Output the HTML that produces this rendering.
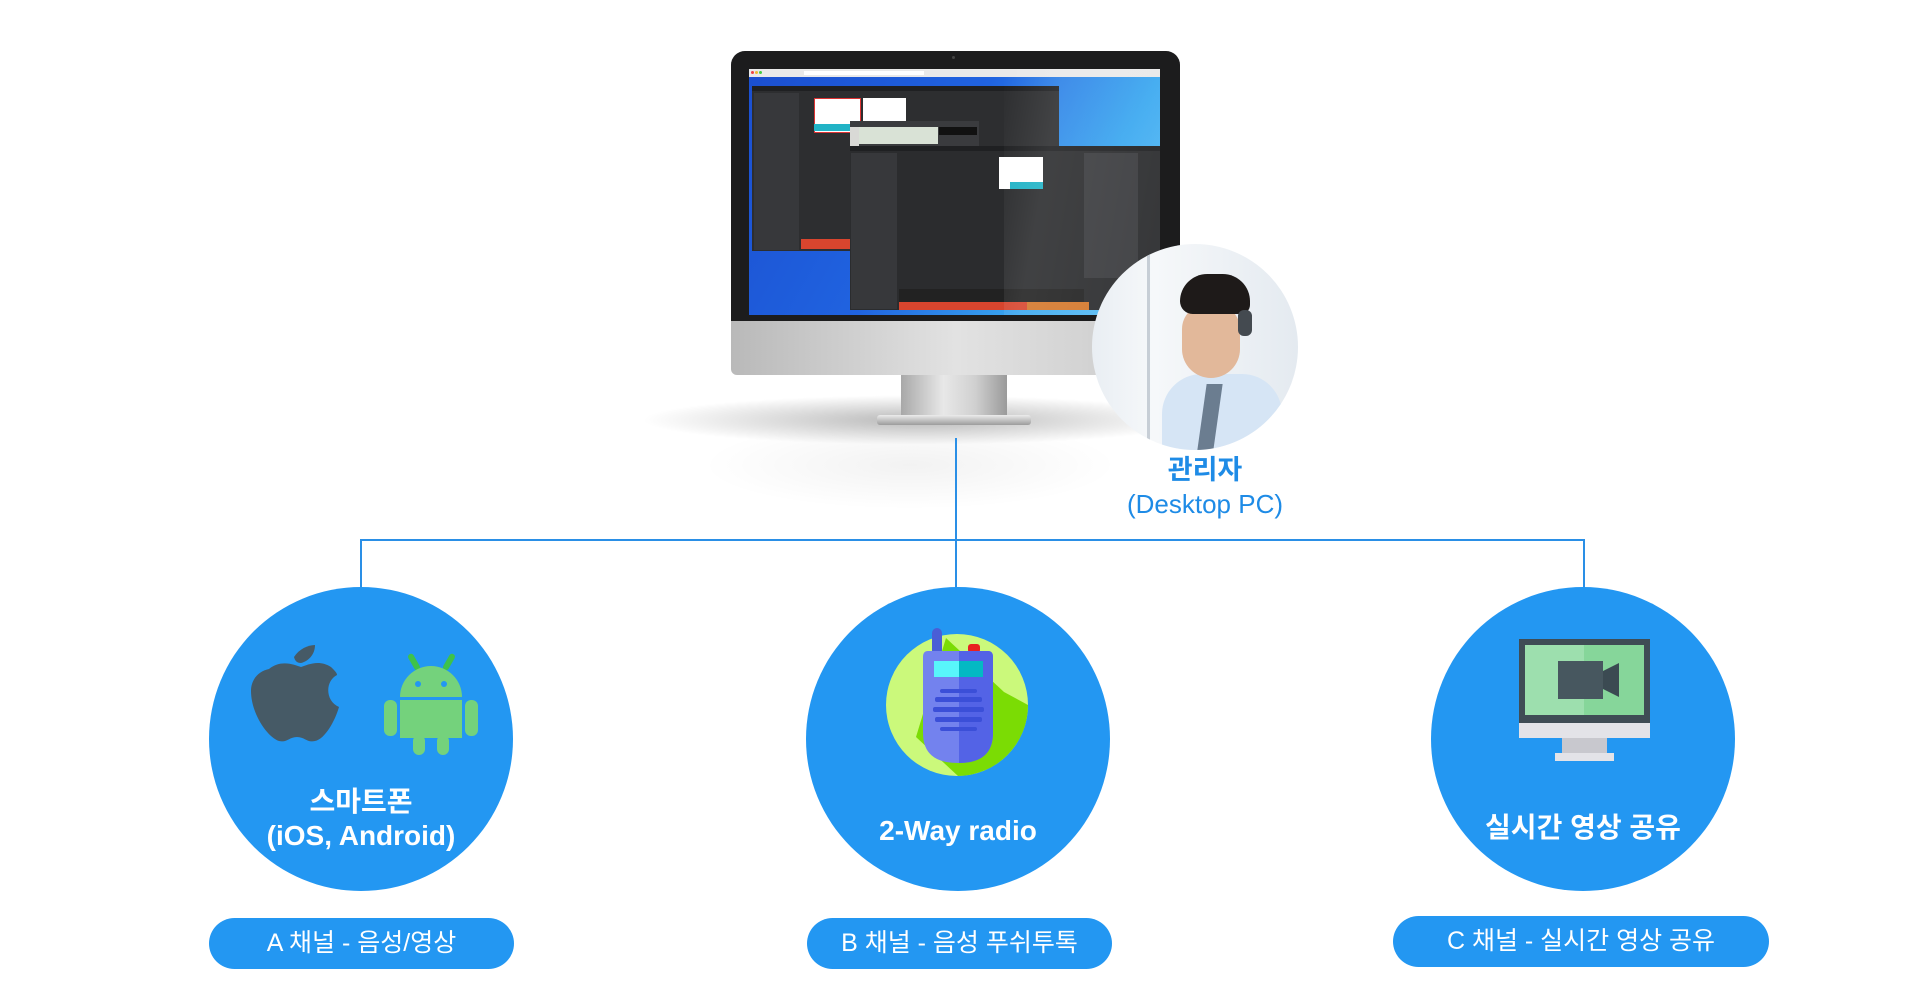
<!DOCTYPE html>
<html><head><meta charset="utf-8"><style>
html,body{margin:0;padding:0;background:#fff;}
body{width:1920px;height:1000px;position:relative;overflow:hidden;font-family:"Liberation Sans","Noto Sans CJK KR",sans-serif;}
.abs{position:absolute;}
.circ{position:absolute;width:304px;height:304px;border-radius:50%;background:#2397f2;}
.ct{position:absolute;left:0;width:100%;text-align:center;color:#fff;font-weight:bold;font-size:28px;line-height:34px;}
.pill{position:absolute;height:51px;border-radius:26px;background:#2397f2;color:#fff;font-size:25px;line-height:51px;text-align:center;}
.ln{position:absolute;background:#2a8fe6;}
</style></head><body>

<div class="abs" style="left:640px;top:395px;width:560px;height:50px;border-radius:50%;background:radial-gradient(ellipse at center,rgba(0,0,0,0.28),rgba(0,0,0,0) 70%);"></div>
<div class="abs" style="left:700px;top:420px;width:420px;height:90px;border-radius:50%;background:radial-gradient(ellipse at center,rgba(0,0,0,0.05),rgba(0,0,0,0) 70%);"></div>

<div class="abs" style="left:901px;top:375px;width:106px;height:42px;background:linear-gradient(90deg,#a8a8a8,#e8e8e8 40%,#d0d0d0 70%,#9a9a9a);"></div>
<div class="abs" style="left:877px;top:415px;width:154px;height:10px;border-radius:3px;background:linear-gradient(#ececec,#9c9c9c);"></div>
<div class="abs" style="left:731px;top:51px;width:449px;height:324px;border-radius:14px 14px 6px 6px;background:linear-gradient(90deg,#b9b9b9,#e2e2e2 50%,#c8c8c8);"></div>
<div class="abs" style="left:731px;top:51px;width:449px;height:270px;border-radius:14px 14px 0 0;background:#1c1c1d;"></div>
<div class="abs" style="left:952px;top:56px;width:3px;height:3px;border-radius:50%;background:#444;"></div>
<div class="abs" style="left:749px;top:69px;width:411px;height:246px;overflow:hidden;background:linear-gradient(120deg,#1b4fd0 0%,#2063e0 45%,#3aa8f0 75%,#6ccaf8 100%);">
  <div class="abs" style="left:0;top:0;width:411px;height:8px;background:#e9e9e9;"></div>
  <div class="abs" style="left:2px;top:2px;width:3px;height:3px;border-radius:50%;background:#e44;"></div>
  <div class="abs" style="left:6px;top:2px;width:3px;height:3px;border-radius:50%;background:#eb3;"></div>
  <div class="abs" style="left:10px;top:2px;width:3px;height:3px;border-radius:50%;background:#4c4;"></div>
  <div class="abs" style="left:55px;top:2px;width:120px;height:4px;background:#fff;"></div>
  <div class="abs" style="left:3px;top:17px;width:307px;height:165px;background:#2d2e30;"></div>
  <div class="abs" style="left:3px;top:17px;width:307px;height:5px;background:#1f2022;"></div>
  <div class="abs" style="left:5px;top:24px;width:45px;height:157px;background:#37383b;"></div>
  <div class="abs" style="left:52px;top:170px;width:50px;height:10px;background:#d8452e;"></div>
  <div class="abs" style="left:65px;top:29px;width:45px;height:33px;background:#fff;border:1px solid #d33;"></div>
  <div class="abs" style="left:65px;top:55px;width:45px;height:7px;background:#21b3c6;"></div>
  <div class="abs" style="left:114px;top:29px;width:43px;height:26px;background:#fff;"></div>
  <div class="abs" style="left:101px;top:52px;width:129px;height:26px;background:#3a3b3e;"></div>
  <div class="abs" style="left:103px;top:58px;width:86px;height:17px;background:#d9e2d6;"></div>
  <div class="abs" style="left:101px;top:58px;width:9px;height:98px;background:#d9d9d6;"></div>
  <div class="abs" style="left:190px;top:58px;width:38px;height:8px;background:#111;"></div>
  <div class="abs" style="left:101px;top:77px;width:310px;height:164px;background:#2b2c2e;"></div>
  <div class="abs" style="left:101px;top:77px;width:310px;height:5px;background:#1f2022;"></div>
  <div class="abs" style="left:102px;top:84px;width:46px;height:156px;background:#37383b;"></div>
  <div class="abs" style="left:335px;top:84px;width:54px;height:125px;background:#3a3b3e;"></div>
  <div class="abs" style="left:250px;top:88px;width:44px;height:32px;background:#fff;"></div>
  <div class="abs" style="left:261px;top:113px;width:33px;height:7px;background:#21b3c6;"></div>
  <div class="abs" style="left:150px;top:220px;width:185px;height:18px;background:#222;"></div>
  <div class="abs" style="left:150px;top:233px;width:128px;height:8px;background:#d8452e;"></div>
  <div class="abs" style="left:278px;top:233px;width:62px;height:8px;background:#d4782c;"></div>
  <div class="abs" style="left:255px;top:0;width:156px;height:246px;background:linear-gradient(100deg,rgba(255,255,255,0) 0%,rgba(255,255,255,0.10) 30%,rgba(255,255,255,0.05) 100%);"></div>
</div>

<div class="abs" style="left:1092px;top:244px;width:206px;height:206px;border-radius:50%;overflow:hidden;background:linear-gradient(90deg,#e9eef3,#f6f8fa 30%,#e4eaf0);">
  <div class="abs" style="left:55px;top:0;width:3px;height:206px;background:#c7ced6;"></div>
  <div class="abs" style="left:70px;top:130px;width:120px;height:90px;border-radius:40px 40px 0 0;background:#d6e5f5;"></div>
  <div class="abs" style="left:110px;top:140px;width:16px;height:66px;background:#6b7d90;transform:skewX(-8deg);"></div>
  <div class="abs" style="left:90px;top:60px;width:58px;height:74px;border-radius:26px 26px 30px 30px;background:#e2b89a;"></div>
  <div class="abs" style="left:88px;top:30px;width:70px;height:40px;border-radius:30px 30px 10px 14px;background:#1e1a19;"></div>
  <div class="abs" style="left:146px;top:66px;width:14px;height:26px;border-radius:6px;background:#444a50;"></div>
</div>
<div class="abs" style="left:1100px;top:453px;width:210px;text-align:center;color:#1e8be6;font-weight:bold;font-size:27px;line-height:34px;">관리자</div>
<div class="abs" style="left:1100px;top:487px;width:210px;text-align:center;color:#1e8be6;font-size:26px;line-height:34px;">(Desktop PC)</div>

<div class="ln" style="left:955px;top:438px;width:2px;height:150px;"></div>
<div class="ln" style="left:360px;top:539px;width:1225px;height:2px;"></div>
<div class="ln" style="left:360px;top:539px;width:2px;height:50px;"></div>
<div class="ln" style="left:1583px;top:539px;width:2px;height:50px;"></div>

<div class="circ" style="left:209px;top:587px;">
  <svg class="abs" style="left:0;top:0" width="304" height="304">
    <g fill="#465a66">
      <path d="M85 70 C90 62 99 58 106 58 C106 67 100 74 92 76 C88 76 86 74 85 70Z"/>
      <path d="M60 82 C72 72 86 78 92 80 C98 78 110 72 122 80 C126 84 128 86 128 88 C116 94 116 114 130 120 C126 134 116 152 106 154 C98 156 96 150 88 150 C80 150 78 156 70 154 C58 150 42 126 42 104 C42 92 50 84 60 82Z"/>
    </g>
    <g transform="translate(40,0)">
      <rect x="162" y="66" width="6" height="18" rx="3" fill="#3ec24a" transform="rotate(-30 165 75)"/>
      <rect x="197" y="66" width="6" height="18" rx="3" fill="#3ec24a" transform="rotate(30 200 75)"/>
      <path d="M151 110 A31 31 0 0 1 213 110 Z" fill="#74d27c"/>
      <circle cx="169" cy="97" r="3" fill="#2397f2"/><circle cx="195" cy="97" r="3" fill="#2397f2"/>
      <rect x="151" y="113" width="62" height="38" fill="#74d27c"/>
      <rect x="135" y="113" width="13" height="36" rx="6" fill="#74d27c"/>
      <rect x="216" y="113" width="13" height="36" rx="6" fill="#74d27c"/>
      <rect x="164" y="148" width="12" height="20" rx="6" fill="#74d27c"/>
      <rect x="188" y="148" width="12" height="20" rx="6" fill="#74d27c"/>
    </g>
  </svg>
  <div class="ct" style="top:198px;">스마트폰</div>
  <div class="ct" style="top:232px;">(iOS, Android)</div>
</div>
<div class="pill" style="left:209px;top:918px;width:305px;">A 채널 - 음성/영상</div>

<div class="circ" style="left:806px;top:587px;">
  <svg class="abs" style="left:0;top:0" width="304" height="304">
    <circle cx="151" cy="118" r="71" fill="#cbf97b"/>
    <path d="M140 51 L198 105 L222 118 A71 71 0 0 1 152 189 L110 150 Z" fill="#7bdc04"/>
    <rect x="126" y="41" width="10" height="30" rx="5" fill="#4a5ed6"/>
    <rect x="162" y="57" width="12" height="9" rx="3" fill="#e82020"/>
    <path d="M118 64 H182 Q187 64 187 70 V146 Q187 176 152 176 Q117 176 117 146 V70 Q117 64 122 64Z" fill="#7382ee"/>
    <path d="M153 64 H182 Q187 64 187 70 V146 Q187 176 153 176Z" fill="#5363e6"/>
    <rect x="128" y="74" width="49" height="16" fill="#58f6fb"/>
    <rect x="153" y="74" width="24" height="16" fill="#04b9c3"/>
    <g fill="#3b4fd8"><rect x="134" y="102" width="37" height="4" rx="2"/><rect x="129" y="110" width="47" height="5" rx="2"/><rect x="127" y="120" width="51" height="5" rx="2"/><rect x="129" y="130" width="47" height="5" rx="2"/><rect x="134" y="140" width="37" height="4" rx="2"/></g>
  </svg>
  <div class="ct" style="top:227px;">2-Way radio</div>
</div>
<div class="pill" style="left:807px;top:918px;width:305px;">B 채널 - 음성 푸쉬투톡</div>

<div class="circ" style="left:1431px;top:587px;">
  <svg class="abs" style="left:0;top:0" width="304" height="304">
    <rect x="88" y="52" width="131" height="84" fill="#3f4c55"/>
    <rect x="94" y="58" width="119" height="70" fill="#86d69a"/>
    <rect x="94" y="58" width="59" height="70" fill="#9ddfae"/>
    <rect x="127" y="74" width="45" height="38" fill="#47575f"/>
    <path d="M172 84 L188 76 V110 L172 102Z" fill="#3b4a52"/>
    <rect x="88" y="136" width="131" height="15" fill="#e3e3e8"/>
    <rect x="131" y="151" width="45" height="15" fill="#c8c8ce"/>
    <rect x="124" y="166" width="59" height="8" fill="#e3e3e8"/>
  </svg>
  <div class="ct" style="top:224px;">실시간 영상 공유</div>
</div>
<div class="pill" style="left:1393px;top:916px;width:376px;">C 채널 - 실시간 영상 공유</div>

</body></html>
